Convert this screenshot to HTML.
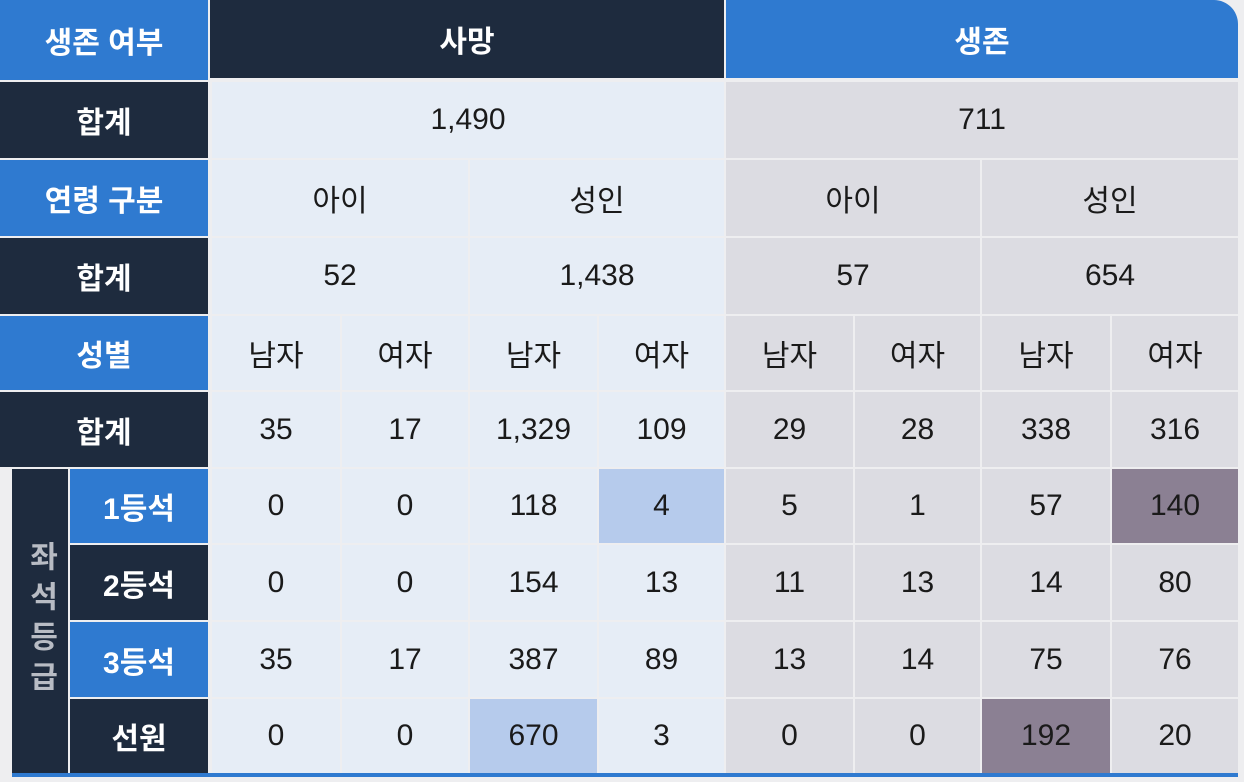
<!DOCTYPE html>
<html><head><meta charset="utf-8"><style>
body{margin:0;width:1244px;height:782px;background:#eeeef0;position:relative;overflow:hidden;font-family:"Liberation Sans","Noto Sans CJK KR",sans-serif}
.c{position:absolute;display:flex;align-items:center;justify-content:center;box-sizing:border-box;font-size:30px;color:#1a1a1a}
.h{color:#fff;font-weight:bold;font-size:30px}
.b{background:#2f7ad0}.n{background:#1e2b3e}
.l{background:#e6edf6}.g{background:#dcdce2}
.hb{background:#b6cbec}.hp{background:#8b8093}
</style></head><body>
<div id="t"></div>
<script>
const cols=[210,340,468,597,724,853,980,1110,1238];
const rowsY=[0,80,158,236,314,390,467,543,620,697,773];
const rowLabels=["생존 여부","합계","연령 구분","합계","성별","합계","1등석","2등석","3등석","선원"];
const genders=["남자","여자","남자","여자","남자","여자","남자","여자"];
const totals=["35","17","1,329","109","29","28","338","316"];
const classData=[["0","0","118","4","5","1","57","140"],["0","0","154","13","11","13","14","80"],["35","17","387","89","13","14","75","76"],["0","0","670","3","0","0","192","20"]];
const hl={"0,3":"hb","0,7":"hp","3,2":"hb","3,6":"hp"};
const t=document.getElementById('t');
function cell(x,y,w,h,txt,cls,name){const d=document.createElement('div');d.className='c '+cls;d.style.left=x+'px';d.style.top=y+'px';d.style.width=w+'px';d.style.height=h+'px';d.textContent=txt;


t.appendChild(d);return d;}
// left labels
for(let r=0;r<10;r++){const blue=r%2==0;const x=r>=6?70:0;cell(x,rowsY[r]+(r?2:0),208-x,rowsY[r+1]-rowsY[r]-(r?2:0),rowLabels[r],'h '+(blue?'b':'n'),'row-label');}
const v=cell(12,rowsY[6]+2,56,rowsY[10]-rowsY[6]-2,'좌석등급','h n','seat-class-label');v.style.writingMode='vertical-rl';v.style.letterSpacing='10px';v.style.color='#b8bcc4';
// header
cell(210,0,514,78,'사망','h n','header-dead');
const s=cell(726,0,512,78,'생존','h b','header-survived');s.style.borderTopRightRadius='24px';
function dc(i){return i<4?'l':'g';}
cell(212,82,512,76,'1,490','l','total-dead');cell(726,82,512,76,'711','g','total-survived');
const ages=["아이","성인","아이","성인"],ageT=["52","1,438","57","654"];
for(let i=0;i<4;i++){const x=cols[i*2]+2,w=cols[i*2+2]-cols[i*2]-2;cell(x,160,w,76,ages[i],dc(i*2),'age-group');cell(x,238,w,76,ageT[i],dc(i*2),'age-total');}
for(let i=0;i<8;i++){const x=cols[i]+2,w=cols[i+1]-cols[i]-2;cell(x,316,w,74,genders[i],dc(i),'gender');cell(x,392,w,75,totals[i],dc(i),'gender-total');
for(let r=0;r<4;r++){cell(x,rowsY[6+r]+2,w,rowsY[7+r]-rowsY[6+r]-2,classData[r][i],hl[r+','+i]||dc(i),'class-value');}}
const bl=document.createElement('div');bl.style.cssText='position:absolute;left:12px;top:773px;width:1226px;height:4px;background:#2f7ad0';


t.appendChild(bl);
</script>
</body></html>
